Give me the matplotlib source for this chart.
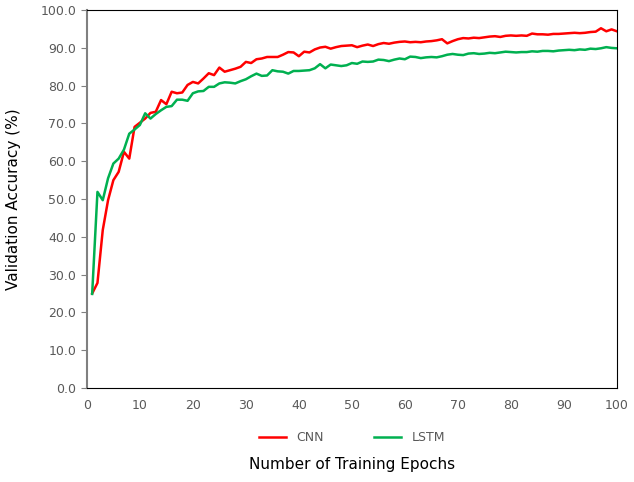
import numpy as np
import matplotlib
matplotlib.use("Agg")
import matplotlib.pyplot as plt

# epochs and accuracy values
epochs = list(range(1, 101))

model_a_name = "CNN"
model_a_acc = [
    25.0, 27.8, 41.8, 49.7, 55.0, 57.2, 62.5, 60.7, 69.1, 70.2,
    71.3, 72.8, 73.1, 76.2, 75.1, 78.4, 78.0, 78.2, 80.2, 81.0,
    80.6, 81.9, 83.3, 82.8, 84.8, 83.7, 84.1, 84.5, 85.0, 86.3,
    86.0, 87.0, 87.2, 87.6, 87.6, 87.6, 88.2, 88.9, 88.8, 87.8,
    89.0, 88.8, 89.6, 90.1, 90.3, 89.8, 90.2, 90.5, 90.6, 90.7,
    90.2, 90.6, 90.9, 90.5, 91.0, 91.3, 91.1, 91.4, 91.6, 91.7,
    91.5, 91.6, 91.5, 91.7, 91.8, 92.0, 92.3, 91.2, 91.8, 92.3,
    92.6, 92.5, 92.7, 92.6, 92.8, 93.0, 93.1, 92.9, 93.2, 93.3,
    93.2, 93.3, 93.2, 93.8, 93.6, 93.6, 93.5, 93.7, 93.7, 93.8,
    93.9, 94.0, 93.9, 94.0, 94.2, 94.3, 95.2, 94.4, 94.9, 94.4,
]

model_b_name = "LSTM"
model_b_acc = [
    24.9, 51.9, 49.7, 55.5, 59.4, 60.7, 63.1, 67.3, 68.4, 69.6,
    72.7, 71.3, 72.5, 73.5, 74.4, 74.6, 76.3, 76.3, 76.0, 78.0,
    78.5, 78.6, 79.7, 79.7, 80.6, 80.9, 80.8, 80.6, 81.2, 81.7,
    82.5, 83.2, 82.6, 82.7, 84.1, 83.8, 83.7, 83.2, 83.9, 83.9,
    84.0, 84.1, 84.6, 85.7, 84.6, 85.6, 85.4, 85.2, 85.4, 86.0,
    85.8, 86.4, 86.3, 86.4, 86.9, 86.8, 86.5, 86.9, 87.2, 87.0,
    87.7, 87.6, 87.3, 87.5, 87.6, 87.5, 87.8, 88.2, 88.4, 88.2,
    88.1, 88.5, 88.6, 88.4, 88.5, 88.7, 88.6, 88.8, 89.0, 88.9,
    88.8, 88.9, 88.9, 89.1, 89.0, 89.2, 89.2, 89.1, 89.3, 89.4,
    89.5, 89.4, 89.6, 89.5, 89.8, 89.7, 89.9, 90.2, 90.0, 89.9,
]

x_ticks = list(range(0, 101, 10))
y_ticks = list(range(0, 101, 10))

fig = plt.figure(figsize=(6.34, 4.82), dpi=100)
ax = fig.add_axes([0.137, 0.195, 0.836, 0.784])

ax.plot(epochs, model_a_acc, color="#FF0000", linewidth=1.8, label=model_a_name)
ax.plot(epochs, model_b_acc, color="#00B050", linewidth=1.8, label=model_b_name)

ax.set_xlim(0, 100)
ax.set_ylim(0, 100)
ax.set_xticks(x_ticks)
ax.set_yticks(y_ticks)
ax.set_yticklabels([f"{v:.1f}" for v in y_ticks])

for side in ["top", "right", "bottom"]:
    ax.spines[side].set_color("black")
ax.spines["left"].set_color("#808080")
ax.spines["left"].set_linewidth(1.5)
ax.tick_params(axis="x", length=0, pad=8, labelsize=9, labelcolor="#595959")
ax.tick_params(axis="y", length=4, color="#808080", labelsize=9, labelcolor="#595959")

ax.set_xlabel("Number of Training Epochs", fontsize=11, labelpad=32)
ax.set_ylabel("Validation Accuracy (%)", fontsize=11, labelpad=14)

ax.legend(loc="upper center", bbox_to_anchor=(0.5, -0.085), ncol=2, frameon=False,
          fontsize=9, handlelength=2.2, columnspacing=4, labelcolor="#595959")

fig.savefig("out.png", dpi=100)
